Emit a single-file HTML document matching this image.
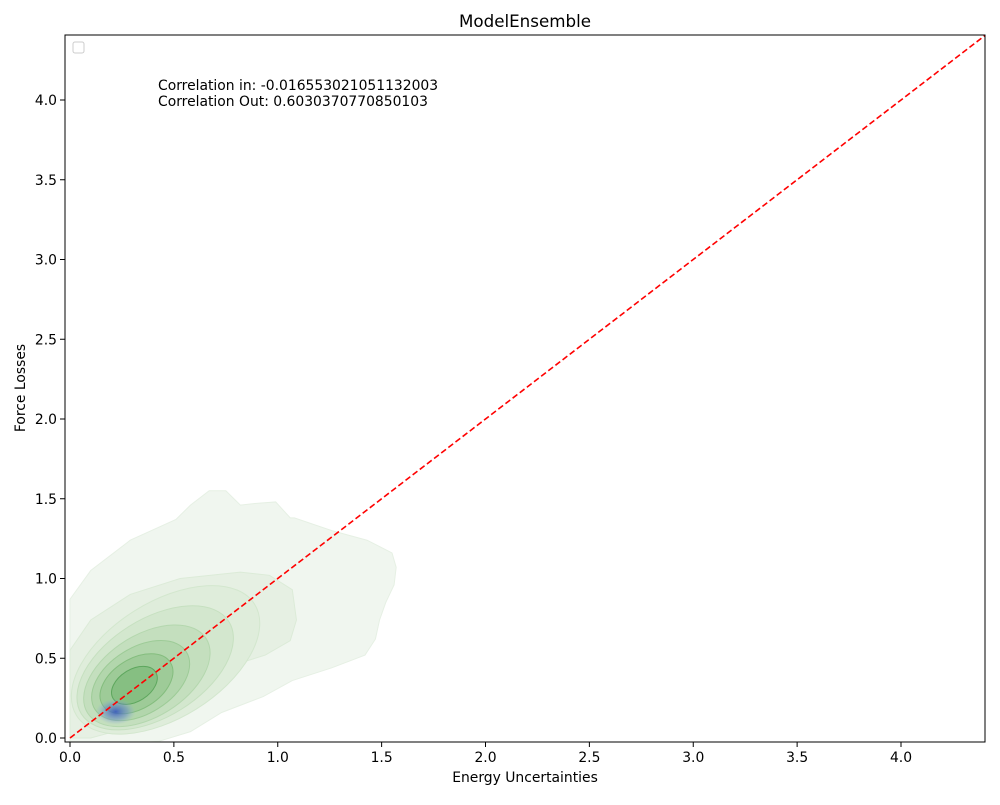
<!DOCTYPE html>
<html><head><meta charset="utf-8"><style>
body{margin:0;background:#fff}
text{font-family:"DejaVu Sans","Liberation Sans",sans-serif;fill:#000}
</style></head><body>
<svg id="chart" width="1000" height="800" viewBox="0 0 1000 800">
<defs>
<radialGradient id="blueg"><stop offset="0" stop-color="#3050c0" stop-opacity="0.85"/><stop offset="0.6" stop-color="#6080d0" stop-opacity="0.45"/><stop offset="1" stop-color="#90a8e0" stop-opacity="0"/></radialGradient>
<clipPath id="clip"><rect x="65" y="35" width="920" height="707"/></clipPath>
</defs>
<rect x="0" y="0" width="1000" height="800" fill="#fff"/>
<text x="525" y="27" font-size="16.7" text-anchor="middle">ModelEnsemble</text>
<g id="plot" clip-path="url(#clip)"></g>
<rect x="65" y="35" width="920" height="707" fill="none" stroke="#000" stroke-width="1"/>
<g id="xticks"></g><g id="yticks"></g>
<text x="525" y="782" font-size="13.9" text-anchor="middle">Energy Uncertainties</text>
<text x="25" y="388" font-size="13.9" text-anchor="middle" transform="rotate(-90 25 388)">Force Losses</text>
<rect x="73" y="42" width="11" height="11" rx="2" fill="#fff" stroke="#ccc"/>
<text x="158" y="90" font-size="13.9">Correlation in: -0.016553021051132003</text>
<text x="158" y="106" font-size="13.9">Correlation Out: 0.6030370770850103</text>
</svg>
<script>
const xTicks=[0,0.5,1,1.5,2,2.5,3,3.5,4];
const yTicks=[0,0.5,1,1.5,2,2.5,3,3.5,4];
const outerX=[0,0,0.1,0.29,0.51,0.58,0.67,0.75,0.82,0.89,0.99,1.06,1.08,1.26,1.43,1.55,1.57,1.56,1.52,1.49,1.47,1.42,1.26,1.07,0.93,0.73,0.58,0.43,0.34,0];
const outerY=[-0.02,0.87,1.05,1.24,1.37,1.46,1.55,1.55,1.46,1.47,1.48,1.38,1.38,1.30,1.24,1.16,1.07,0.96,0.85,0.74,0.62,0.52,0.44,0.36,0.26,0.16,0.04,-0.02,-0.03,-0.03];
const midX=[0,0.1,0.29,0.53,0.82,0.96,1.07,1.09,1.06,0.94,0.72,0.53,0.39,0.24,0.1,0];
const midY=[0.55,0.74,0.9,1.0,1.04,1.02,0.93,0.74,0.61,0.52,0.43,0.30,0.18,0.05,0,0];
const kdeCX=[0.46,0.41,0.37,0.34,0.32,0.31];
const kdeCY=[0.49,0.44,0.39,0.36,0.34,0.33];
const kdeA=[105,87,70,54,40,25];
const kdeB=[58,49,41,33,25,16];
const blueX=0.22, blueY=0.165;
const diag=[0,4.5];
const NS="http://www.w3.org/2000/svg";
const sx=v=>70+v*207.75, sy=v=>738-v*159.5;
const plot=document.getElementById('plot');
function mk(tag,attrs,parent){const e=document.createElementNS(NS,tag);for(const k in attrs)e.setAttribute(k,attrs[k]);parent.appendChild(e);return e;}
let d=outerX.map((x,i)=>(i?'L':'M')+sx(x)+','+sy(outerY[i])).join('')+'Z';
const o=mk('path',{d:d,fill:'#f0f6ef',stroke:'#e6f0e4'},plot);


d=midX.map((x,i)=>(i?'L':'M')+sx(x)+','+sy(midY[i])).join('')+'Z';
const m=mk('path',{d:d,fill:'#e6f0e3',stroke:'#dcebd8'},plot);


const fills=['#dfeddb','#d3e7ce','#c4dfbe','#b2d6ac','#9ecb98','#86bf82'];
const strokes=['#d3e7ce','#c6e0c0','#b4d7ae','#9dcb97','#84bd7e','#5ea75e'];
kdeCX.forEach((cx,i)=>{
 const e=mk('ellipse',{cx:sx(cx),cy:sy(kdeCY[i]),rx:kdeA[i],ry:kdeB[i],fill:fills[i],stroke:strokes[i],'stroke-width':1,transform:`rotate(-32 ${sx(cx)} ${sy(kdeCY[i])})`},plot);
 
 
});
const b=mk('ellipse',{cx:sx(blueX),cy:sy(blueY),rx:20,ry:13,fill:'url(#blueg)'},plot);


const l=mk('line',{x1:sx(diag[0]),y1:sy(diag[0]),x2:sx(diag[1]),y2:sy(diag[1]),stroke:'#ff0000','stroke-width':1.6,'stroke-dasharray':'6,3'},plot);


const xg=document.getElementById('xticks'),yg=document.getElementById('yticks');
xTicks.forEach(v=>{
 const t=mk('line',{x1:sx(v),x2:sx(v),y1:742,y2:747,stroke:'#000'},xg);
 
 
 const tx=mk('text',{x:sx(v),y:762,'font-size':13.9,'text-anchor':'middle'},xg);tx.textContent=v.toFixed(1);
 
 
});
yTicks.forEach(v=>{
 const t=mk('line',{x1:60,x2:65,y1:sy(v),y2:sy(v),stroke:'#000'},yg);
 
 
 const tx=mk('text',{x:57,y:sy(v)+5,'font-size':13.9,'text-anchor':'end'},yg);tx.textContent=v.toFixed(1);
 
 
});
</script>
</body></html>
